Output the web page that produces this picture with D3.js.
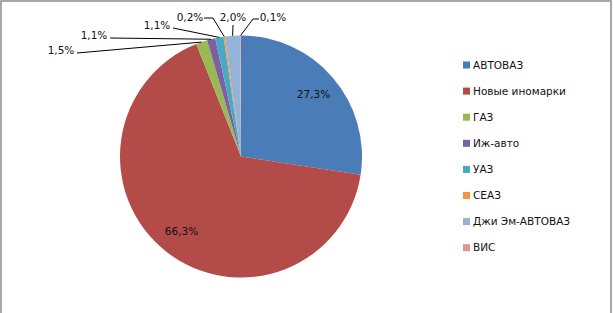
<!DOCTYPE html>
<html>
<head>
<meta charset="utf-8">
<script src="https://cdn.jsdelivr.net/npm/d3@7"></script>
<style>
  body { margin: 0; background: #fff; }
  text { font-family: "DejaVu Sans", sans-serif; font-size: 10.5px; fill: #111; }
</style>
</head>
<body>
<script>
// market shares, %
const brands = ["АВТОВАЗ", "Новые иномарки", "ГАЗ", "Иж-авто", "УАЗ", "СЕАЗ", "Джи Эм-АВТОВАЗ", "ВИС"];
const shares = [27.3, 66.3, 1.5, 1.1, 1.1, 0.2, 2.0, 0.1];
const shareLabels = ["27,3%", "66,3%", "1,5%", "1,1%", "1,1%", "0,2%", "2,0%", "0,1%"];
const colors = ["#4a7db8", "#b34b48", "#98b954", "#7d60a0", "#46aac5", "#f69240", "#95b3d7", "#d99694"];

const width = 613, height = 313;
const cx = 241, cy = 156.5, r = 121;

const svg = d3.select("body").append("svg")
    .attr("width", width)
    .attr("height", height);

// chart frame (bottom edge falls outside the picture)
svg.append("rect")
    .attr("x", 1).attr("y", 1)
    .attr("width", 610).attr("height", 330)
    .attr("fill", "none")
    .attr("stroke", "#8a8a8a")
    .attr("stroke-width", 1.5);

const pie = d3.pie().sort(null).value(d => d);
const arcs = pie(shares);
const arc = d3.arc().innerRadius(0).outerRadius(r);
const labelArc = d3.arc().innerRadius(r * 0.79).outerRadius(r * 0.79);

const g = svg.append("g").attr("transform", `translate(${cx},${cy})`);

g.selectAll("path.slice")
    .data(arcs)
    .join("path")
    .attr("class", "slice")
    .attr("d", arc)
    .attr("fill", (d, i) => colors[i]);

// inside labels for the two big slices
g.selectAll("text.inner")
    .data(arcs.filter(d => d.data > 10))
    .join("text")
    .attr("class", "inner")
    .attr("transform", d => `translate(${labelArc.centroid(d)})`)
    .attr("text-anchor", "middle")
    .attr("dy", "0.35em")
    .text(d => shareLabels[d.index]);

// outside labels: text position and where the leader line starts
const outside = [
  { i: 2, tx: 61,  ty: 54, pts: [[77, 53]] },
  { i: 3, tx: 94,  ty: 39, pts: [[110, 38]] },
  { i: 4, tx: 157, ty: 29, pts: [[173, 28]] },
  { i: 5, tx: 190, ty: 21, pts: [[204, 18], [213, 18]] },
  { i: 6, tx: 233, ty: 21, pts: [[233, 25]] },
  { i: 7, tx: 273, ty: 21, pts: [[259, 19], [253, 19]] }
];

function edgePoint(d) {
  const a = (d.startAngle + d.endAngle) / 2;
  return [cx + r * Math.sin(a), cy - r * Math.cos(a)];
}

svg.selectAll("polyline.leader")
    .data(outside)
    .join("polyline")
    .attr("class", "leader")
    .attr("points", o => o.pts.concat([edgePoint(arcs[o.i])]).map(p => p.join(",")).join(" "))
    .attr("fill", "none")
    .attr("stroke", "#000")
    .attr("stroke-width", 1);

svg.selectAll("text.outer")
    .data(outside)
    .join("text")
    .attr("class", "outer")
    .attr("x", o => o.tx)
    .attr("y", o => o.ty)
    .attr("text-anchor", "middle")
    .text(o => shareLabels[o.i]);

// legend
const legend = svg.append("g").attr("transform", "translate(463,65)");
const row = legend.selectAll("g")
    .data(brands)
    .join("g")
    .attr("transform", (d, i) => `translate(0,${i * 26.1})`);

row.append("rect")
    .attr("x", 0).attr("y", -3.5)
    .attr("width", 7).attr("height", 7)
    .attr("fill", (d, i) => colors[i]);

row.append("text")
    .attr("x", 10)
    .attr("dy", "0.35em")
    .text(d => d);
</script>
</body>
</html>
